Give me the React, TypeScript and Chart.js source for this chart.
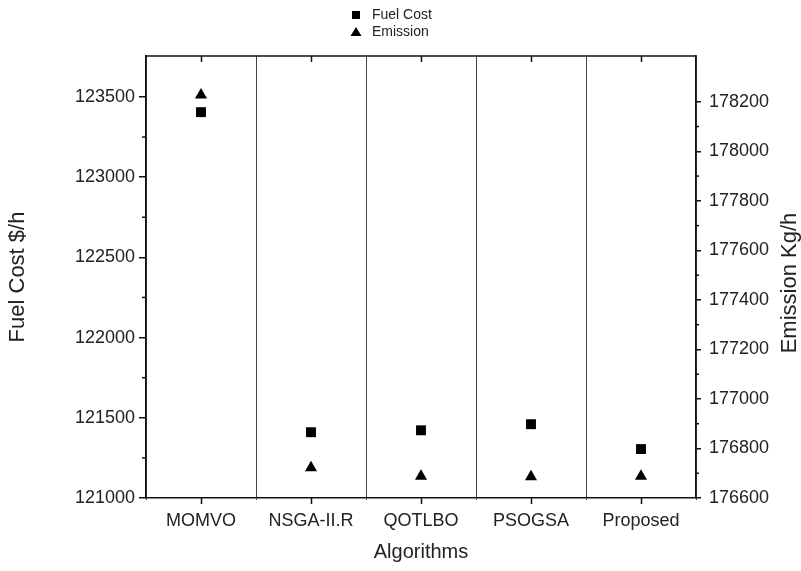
import { useEffect, useRef } from 'react';
import { Chart, registerables } from 'chart.js';

Chart.register(...registerables);

const categories = ['MOMVO', 'NSGA-II.R', 'QOTLBO', 'PSOGSA', 'Proposed'];
const fuelCost = [123405, 121410, 121422, 121460, 121305];
const emission = [178228, 176722, 176688, 176686, 176688];
const fuelTicks = [121000, 121500, 122000, 122500, 123000, 123500];
const emissionTicks = [176600, 176800, 177000, 177200, 177400, 177600, 177800, 178000, 178200];
const fuelRange = [121000, 123755];
const emissionRange = [176600, 178385];

const FONT = "'Liberation Sans', Arial, sans-serif";
const TEXT = '#222';

function midpoints(arr: number[]) {
  const out: number[] = [];
  for (let i = 0; i < arr.length - 1; i++) out.push((arr[i] + arr[i + 1]) / 2);
  return out;
}

const decorPlugin = {
  id: 'decor',
  afterDraw(chart: any) {
    const { ctx, chartArea: a, scales } = chart;
    const x = scales.x;
    const y = scales.y;
    const y1 = scales.y1;
    ctx.save();
    ctx.strokeStyle = '#111';
    ctx.lineWidth = 1.5;
    // top frame
    ctx.beginPath();
    ctx.moveTo(a.left - 0.75, a.top);
    ctx.lineTo(a.right + 0.75, a.top);
    ctx.stroke();
    // category ticks (bottom outward, top inward)
    categories.forEach((_, i) => {
      const px = Math.round(x.getPixelForValue(i)) + 0.5;
      ctx.beginPath();
      ctx.moveTo(px, a.bottom);
      ctx.lineTo(px, a.bottom + 6);
      ctx.moveTo(px, a.top);
      ctx.lineTo(px, a.top + 6);
      ctx.stroke();
    });
    // minor ticks
    midpoints(fuelTicks).forEach((v) => {
      const py = y.getPixelForValue(v);
      ctx.beginPath();
      ctx.moveTo(a.left, py);
      ctx.lineTo(a.left - 4, py);
      ctx.stroke();
    });
    midpoints(emissionTicks).forEach((v) => {
      const py = y1.getPixelForValue(v);
      ctx.beginPath();
      ctx.moveTo(a.right, py);
      ctx.lineTo(a.right + 3, py);
      ctx.stroke();
    });
    // right axis title (reads bottom-to-top)
    ctx.fillStyle = TEXT;
    ctx.font = `22px ${FONT}`;
    ctx.textAlign = 'center';
    ctx.textBaseline = 'middle';
    ctx.save();
    ctx.translate(790, (a.top + a.bottom) / 2 + 6);
    ctx.rotate(-Math.PI / 2);
    ctx.fillText('Emission Kg/h', 0, 0);
    ctx.restore();
    // legend
    const lx = 356;
    const rows = [
      { label: 'Fuel Cost', shape: 'rect', yy: 15 },
      { label: 'Emission', shape: 'tri', yy: 32 },
    ];
    ctx.fillStyle = '#000';
    rows.forEach((r) => {
      ctx.beginPath();
      if (r.shape === 'rect') {
        ctx.rect(lx - 4, r.yy - 4, 8, 8);
      } else {
        ctx.moveTo(lx, r.yy - 5);
        ctx.lineTo(lx + 5.5, r.yy + 4);
        ctx.lineTo(lx - 5.5, r.yy + 4);
        ctx.closePath();
      }
      ctx.fill();
    });
    ctx.fillStyle = TEXT;
    ctx.font = `14px ${FONT}`;
    ctx.textAlign = 'left';
    ctx.textBaseline = 'middle';
    rows.forEach((r) => ctx.fillText(r.label, lx + 16, r.yy));
    ctx.restore();
  },
};

export default function App() {
  const ref = useRef<HTMLCanvasElement | null>(null);

  useEffect(() => {
    if (!ref.current) return;
    const chart = new Chart(ref.current, {
      type: 'line',
      data: {
        labels: categories,
        datasets: [
          {
            label: 'Fuel Cost',
            data: fuelCost,
            yAxisID: 'y',
            showLine: false,
            pointStyle: 'rect',
            pointRadius: 7,
            pointHoverRadius: 7,
            backgroundColor: '#000',
            borderColor: '#000',
            borderWidth: 0,
          },
          {
            label: 'Emission',
            data: emission,
            yAxisID: 'y1',
            showLine: false,
            pointStyle: 'triangle',
            pointRadius: 7,
            pointHoverRadius: 7,
            backgroundColor: '#000',
            borderColor: '#000',
            borderWidth: 0,
          },
        ],
      },
      options: {
        animation: false,
        responsive: false,
        layout: { padding: { top: 56, left: 0, right: 0, bottom: 0 } },
        plugins: {
          legend: { display: false },
          tooltip: { enabled: false },
        },
        scales: {
          x: {
            type: 'category',
            offset: true,
            afterFit: (s: any) => {
              s.height = 73;
            },
            border: { display: true, color: '#111', width: 1.5 },
            grid: {
              offset: true,
              drawOnChartArea: true,
              color: '#444',
              lineWidth: 1,
              tickLength: 2,
            },
            ticks: {
              color: TEXT,
              font: { family: FONT, size: 18 },
              padding: 10,
              maxRotation: 0,
            },
            title: {
              display: true,
              text: 'Algorithms',
              color: TEXT,
              font: { family: FONT, size: 20 },
              padding: { top: 0, bottom: 7 },
            },
          },
          y: {
            type: 'linear',
            position: 'left',
            min: fuelRange[0],
            max: fuelRange[1],
            afterBuildTicks: (s: any) => {
              s.ticks = fuelTicks.map((v) => ({ value: v }));
            },
            afterFit: (s: any) => {
              s.width = 146;
            },
            border: { display: true, color: '#111', width: 1.5 },
            grid: { drawOnChartArea: false, color: '#111', lineWidth: 1.5, tickLength: 7 },
            ticks: {
              color: TEXT,
              font: { family: FONT, size: 18 },
              padding: 4,
              callback: (v: any) => String(v),
            },
            title: {
              display: true,
              text: 'Fuel Cost $/h',
              color: TEXT,
              font: { family: FONT, size: 22 },
              padding: { top: 5, bottom: 0 },
            },
          },
          y1: {
            type: 'linear',
            position: 'right',
            min: emissionRange[0],
            max: emissionRange[1],
            afterBuildTicks: (s: any) => {
              s.ticks = emissionTicks.map((v) => ({ value: v }));
            },
            afterFit: (s: any) => {
              s.width = 105;
            },
            border: { display: true, color: '#111', width: 1.5 },
            grid: { drawOnChartArea: false, color: '#111', lineWidth: 1.5, tickLength: 5 },
            ticks: {
              color: TEXT,
              font: { family: FONT, size: 18 },
              padding: 8,
              callback: (v: any) => String(v),
            },
          },
        },
      },
      plugins: [decorPlugin],
    });
    return () => chart.destroy();
  }, []);

  return (
    <div style={{ position: 'fixed', left: 0, top: 0, width: 801, height: 571, background: '#fff' }}>
      <canvas ref={ref} width={801} height={571} style={{ display: 'block', width: 801, height: 571 }} />
    </div>
  );
}
